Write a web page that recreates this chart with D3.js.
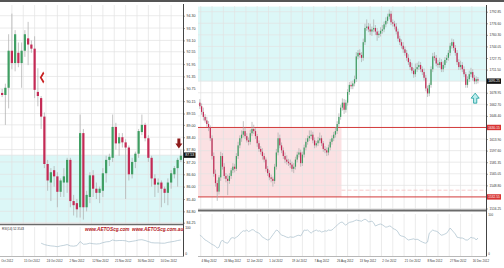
<!DOCTYPE html>
<html><head><meta charset="utf-8">
<script src="https://cdn.jsdelivr.net/npm/d3@7"></script>
<style>html,body{margin:0;padding:0;background:#fff;overflow:hidden}text{font-family:"Liberation Sans",Arial,sans-serif}</style>
</head><body>
<svg id="c" width="504" height="268"></svg>
<script>
// ---------------- DATA: left chart (crude oil, daily, Oct-Dec 2012) ----------------
const oilOpen = [90.55,90.45,90.8,92.6,92.0,92.5,92.0,92.6,93.2,92.9,
 92.7,90.6,90.3,89.4,87.1,86.2,86.8,86.5,85.75,86.2,
 86.2,87.3,85.3,85.2,85.0,88.6,85.0,85.5,86.55,85.9,
 85.7,85.8,86.65,87.3,87.4,88.9,88.1,88.4,88.15,87.9,
 86.6,87.2,87.6,88.65,89.0,88.35,87.4,86.4,86.1,86.2,
 85.9,85.7,86.2,86.6,86.9,87.3];
const oilHigh = [90.75,91.0,93.4,94.4,93.6,93.0,93.0,93.6,94.0,93.1,
 93.3,91.75,90.4,89.6,87.3,86.9,87.0,86.7,86.4,86.9,
 87.4,87.4,85.6,85.4,89.5,88.8,85.8,86.7,86.8,86.2,
 86.0,86.9,87.5,87.6,89.5,89.1,88.6,88.6,88.3,88.0,
 87.4,87.7,88.8,89.5,89.1,88.5,87.5,86.6,86.4,86.3,
 86.0,86.4,86.8,87.0,87.4,87.8];
const oilLow = [90.35,89.0,89.8,91.7,91.6,91.8,90.8,92.3,91.9,92.5,
 90.3,89.9,88.8,86.9,85.8,85.3,86.0,85.0,85.5,85.5,
 85.7,85.0,84.6,84.5,84.5,84.4,84.8,85.2,85.5,85.4,
 85.2,85.5,86.2,87.0,87.2,87.8,87.5,87.9,85.4,86.3,
 86.4,86.9,87.4,88.5,88.2,87.2,86.0,85.5,85.7,85.0,
 85.2,85.1,85.9,86.4,86.0,87.2];
const oilClose = [90.45,90.8,92.6,92.0,93.4,92.0,92.6,93.4,92.9,92.7,
 90.7,90.4,89.4,87.1,86.3,86.7,86.5,85.75,86.3,86.5,
 87.3,85.3,85.1,84.9,88.6,85.0,85.6,86.55,85.9,85.7,
 85.9,86.65,87.3,87.45,88.9,88.1,88.4,88.15,87.9,86.6,
 87.2,87.6,88.7,89.0,88.35,87.4,86.4,86.1,86.2,85.9,
 85.7,86.2,86.65,86.9,87.3,87.5];
const oilRSIStart = 12;
const oilRSI = [40,35,32,30,29,27,30,32,35,30,29,31,46,36,37,40,38,37,38,42,
 45,46,52,49,50,50,49,45,47,49,52,53,50,46,42,41,41,40,40,43,45,47,50,52];
const oilYTicks = [94.30,93.70,93.10,92.55,91.95,91.35,90.75,90.15,89.55,89.00,88.40,87.80,87.20,86.60,86.00,85.40,84.80,84.25];
const oilXLabels = ["Oct 2012","15 Oct 2012","24 Oct 2012","2 Nov 2012","12 Nov 2012","21 Nov 2012","30 Nov 2012","10 Dec 2012"];
const oilXLabelBars = [0,7,14,21,28,35,42,49];
const oilLast = 87.53;
const oilRSILabel = "RSI(14) 52.3543";

// ---------------- DATA: right chart (gold, daily, May-Dec 2012) ----------------
const goldOpen = [1665,1660,1652,1645,1640,1635,1630,1615,1590,1565,
 1552,1540,1560,1590,1575,1562,1558,1555,1562,1570,
 1575,1572,1590,1605,1615,1620,1625,1618,1612,1610,
 1622,1628,1625,1618,1608,1600,1596,1590,1585,1572,
 1566,1560,1558,1555,1575,1595,1615,1605,1598,1590,
 1585,1582,1580,1578,1572,1575,1585,1592,1595,1580,
 1592,1602,1610,1615,1618,1620,1612,1605,1608,1612,
 1615,1608,1600,1598,1595,1602,1610,1615,1620,1625,
 1635,1645,1658,1665,1655,1665,1680,1690,1688,1692,
 1698,1730,1735,1732,1728,1750,1770,1772,1768,1765,
 1768,1770,1765,1760,1762,1766,1768,1775,1780,1786,
 1790,1778,1776,1772,1765,1755,1750,1745,1740,1735,
 1728,1722,1715,1710,1705,1712,1715,1718,1712,1708,
 1700,1685,1678,1690,1712,1730,1728,1720,1718,1722,
 1712,1718,1725,1728,1735,1745,1750,1742,1735,1722,
 1715,1718,1712,1705,1690,1698,1705,1708,1700,1695,
 1698];
const goldHigh = [1670,1664,1658,1649,1645,1639,1633,1619,1595,1571,
 1556,1563,1596,1594,1580,1566,1564,1566,1573,1580,
 1579,1594,1610,1619,1626,1639,1630,1622,1616,1627,
 1638,1634,1629,1621,1612,1604,1601,1594,1588,1576,
 1570,1564,1561,1579,1600,1623,1620,1609,1602,1595,
 1591,1586,1585,1582,1580,1589,1596,1601,1599,1596,
 1606,1615,1619,1626,1626,1624,1616,1611,1617,1623,
 1619,1611,1604,1602,1606,1614,1619,1624,1630,1639,
 1650,1662,1671,1670,1669,1684,1694,1695,1696,1703,
 1736,1739,1740,1736,1755,1776,1782,1777,1776,1772,
 1782,1774,1770,1766,1771,1774,1779,1785,1790,1796,
 1794,1782,1780,1777,1769,1759,1754,1750,1744,1739,
 1733,1726,1721,1714,1720,1721,1723,1722,1716,1713,
 1704,1689,1693,1716,1735,1736,1732,1725,1728,1726,
 1723,1729,1732,1739,1749,1755,1754,1746,1739,1726,
 1724,1722,1716,1708,1702,1710,1714,1712,1704,1702,
 1701];
const goldLow = [1656,1648,1640,1637,1631,1625,1611,1585,1561,1547,
 1527,1536,1555,1571,1558,1553,1535,1551,1558,1566,
 1567,1569,1586,1601,1610,1616,1614,1609,1605,1606,
 1618,1621,1614,1603,1596,1592,1585,1581,1568,1562,
 1556,1553,1547,1551,1571,1591,1601,1594,1586,1580,
 1578,1576,1573,1568,1566,1571,1581,1588,1575,1576,
 1588,1598,1606,1611,1614,1608,1601,1602,1604,1608,
 1604,1596,1594,1590,1591,1598,1606,1611,1616,1621,
 1631,1641,1654,1649,1651,1661,1676,1684,1684,1688,
 1694,1726,1728,1722,1724,1746,1766,1764,1760,1759,
 1764,1760,1752,1756,1758,1762,1764,1771,1776,1782,
 1774,1772,1768,1761,1751,1746,1741,1735,1731,1724,
 1718,1711,1706,1700,1701,1708,1711,1708,1704,1696,
 1681,1673,1674,1686,1708,1724,1716,1714,1714,1708,
 1708,1714,1721,1724,1731,1741,1738,1731,1718,1711,
 1711,1708,1701,1686,1686,1694,1701,1696,1691,1691,
 1692];
const goldClose = [1660,1652,1645,1640,1635,1630,1615,1590,1565,1552,
 1540,1560,1590,1575,1562,1558,1555,1562,1570,1575,
 1572,1590,1605,1615,1620,1625,1618,1612,1610,1622,
 1628,1625,1618,1608,1600,1596,1590,1585,1572,1566,
 1560,1558,1555,1575,1595,1615,1605,1598,1590,1585,
 1582,1580,1578,1572,1575,1585,1592,1595,1580,1592,
 1602,1610,1615,1618,1620,1612,1605,1608,1612,1615,
 1608,1600,1598,1595,1602,1610,1615,1620,1625,1635,
 1645,1658,1665,1655,1665,1680,1690,1688,1692,1698,
 1730,1735,1732,1728,1750,1770,1772,1768,1765,1768,
 1770,1765,1760,1762,1766,1768,1775,1780,1786,1790,
 1778,1776,1772,1765,1755,1750,1745,1740,1735,1728,
 1722,1715,1710,1705,1712,1715,1718,1712,1708,1700,
 1685,1678,1690,1712,1730,1728,1720,1718,1722,1712,
 1718,1725,1728,1735,1745,1750,1742,1735,1722,1715,
 1718,1712,1705,1690,1698,1705,1708,1700,1695,1698,
 1696];
const goldRSIStart = 0;
const goldRSI = [47,44,40,35,33,30,27,24,22,19,15,17,30,35,30,28,27,33,40,41,
 39,42,45,50,55,58,57,60,56,58,61,60,56,54,52,48,42,40,37,35,
 36,42,48,54,60,58,52,47,46,44,42,41,43,42,42,44,46,47,45,52,
 60,59,60,56,52,56,58,60,57,58,55,56,58,57,60,59,60,64,68,72,
 76,79,80,75,72,76,79,80,81,83,85,84,83,82,85,87,85,80,81,82,
 78,70,72,74,75,73,70,67,68,70,69,64,62,60,55,47,45,44,42,38,
 35,36,37,38,36,37,35,32,30,28,27,30,52,56,60,58,57,55,50,47,
 48,50,52,58,65,60,55,50,42,41,40,40,38,35,35,38,42,40,40,35,40];
const goldYTicks = [1792.85,1776.60,1760.30,1744.05,1727.75,1711.50,1678.95,1662.70,1646.40,1613.90,1597.60,1581.35,1565.05,1548.80,1516.25];
const goldXLabels = ["4 May 2012","24 May 2012","12 Jun 2012","1 Jul 2012","19 Jul 2012","7 Aug 2012","26 Aug 2012","13 Sep 2012","2 Oct 2012","21 Oct 2012","8 Nov 2012","27 Nov 2012","16 Dec 2012"];
const goldXLabelBars = [1,14,27,40,53,66,79,92,105,118,131,144,157];
const goldLast = 1695.25;
const goldLevels = [1630.15, 1532.55];
const goldZoneEndBar = 82;
const goldFaintLevel = 1542;

// ---------------- DRAWING ----------------
const svg = d3.select("#c");
const GREEN = "#3f9e63", RED = "#c42a55", WICK = "#aaaaaa", GRID = "#e3e3e3", CYAN = "#dcf7f7", PINK = "#fbe1e3";
const XFS = 2.9;

svg.append("rect").attr("x",0).attr("y",0).attr("width",504).attr("height",2).attr("fill","#555");

function panel(o){
  const g = svg.append("g");
  const n = o.open.length;
  const x = d3.scaleLinear().domain([0,n]).range([o.x0,o.x1]);
  const y = d3.scaleLinear().domain(o.yDomain).range(o.yRange);
  const r = d3.scaleLinear().domain([0,100]).range(o.rRange);
  const L = o.plotL, R = o.plotR, T = o.plotT, B = o.plotB;
  const FS = o.fs;

  const cy0 = Math.max(T, y(o.cyan[1])), cy1 = Math.min(B, y(o.cyan[0]));
  g.append("rect").attr("x",L).attr("y",cy0).attr("width",R-L).attr("height",cy1-cy0).attr("fill",CYAN);
  if (o.pink) {
    g.append("rect").attr("x",L).attr("y",y(o.pink.hi)).attr("width",x(o.pink.endBar)-L)
      .attr("height",y(o.pink.lo)-y(o.pink.hi)).attr("fill",PINK);
  }
  const vgrid = d3.range(o.gridStart, n, o.gridStep);
  g.selectAll(".vg").data(vgrid).join("line").attr("x1",d=>x(d)).attr("x2",d=>x(d))
    .attr("y1",T).attr("y2",B).attr("stroke",GRID).attr("stroke-width",0.7);
  g.selectAll(".vg2").data(vgrid).join("line").attr("x1",d=>x(d)).attr("x2",d=>x(d))
    .attr("y1",o.rRange[1]).attr("y2",o.rRange[0]+2).attr("stroke",GRID).attr("stroke-width",0.7);
  g.selectAll(".hg").data(o.yTicks.concat([o.last])).join("line").attr("x1",L).attr("x2",R)
    .attr("y1",d=>y(d)).attr("y2",d=>y(d)).attr("stroke",GRID).attr("stroke-width",0.7);

  if (o.faint) {
    g.append("line").attr("x1",x(o.pink.endBar)).attr("x2",R).attr("y1",y(o.faint)).attr("y2",y(o.faint))
      .attr("stroke","#f2b8b8").attr("stroke-width",0.7).attr("stroke-dasharray","4,2");
  }
  if (o.levels) {
    g.selectAll(".lv").data(o.levels).join("line").attr("x1",L).attr("x2",R)
      .attr("y1",d=>y(d)).attr("y2",d=>y(d)).attr("stroke","#d23a3a").attr("stroke-width",1);
  }

  const idx = d3.range(n);
  const bw = (x(1)-x(0))*o.bodyFrac;
  g.selectAll(".wk").data(idx).join("line")
    .attr("x1",i=>x(i+0.5)).attr("x2",i=>x(i+0.5))
    .attr("y1",i=>y(o.high[i])).attr("y2",i=>y(o.low[i]))
    .attr("stroke",WICK).attr("stroke-width",0.7);
  g.selectAll(".bd").data(idx).join("rect")
    .attr("x",i=>x(i+0.5)-bw/2).attr("width",bw)
    .attr("y",i=>y(Math.max(o.open[i],o.close[i])))
    .attr("height",i=>Math.max(0.8, Math.abs(y(o.open[i])-y(o.close[i]))))
    .attr("fill",i=>o.close[i]>=o.open[i]?GREEN:RED);

  g.append("line").attr("x1",L).attr("x2",R).attr("y1",o.sepY).attr("y2",o.sepY)
    .attr("stroke","#6a6a6a").attr("stroke-width",o.sepW);

  const line = d3.line().x((d,i)=>x(o.rsiStart+i+0.5)).y(d=>r(d));
  g.append("path").datum(o.rsi).attr("d",line).attr("fill","none").attr("stroke","#a8bfcc").attr("stroke-width",0.7);

  g.append("line").attr("x1",R+0.5).attr("x2",R+0.5).attr("y1",T-1).attr("y2",o.axisB).attr("stroke","#444").attr("stroke-width",1);
  g.append("line").attr("x1",L).attr("x2",R).attr("y1",o.axisB).attr("y2",o.axisB).attr("stroke","#999").attr("stroke-width",0.7);

  const ax = g.append("g").attr("transform",`translate(${R+0.5},0)`)
    .call(d3.axisRight(y).tickValues(o.yTicks).tickFormat(d=>d.toFixed(2)).tickSize(1.5).tickPadding(1.5));
  ax.select(".domain").remove();
  ax.selectAll("text").attr("font-size",FS).attr("fill","#333").attr("font-family","Liberation Sans, Arial");
  ax.selectAll("line").attr("stroke","#444").attr("stroke-width",0.5);

  const boxes = [{v:o.last, fill:"#111"}].concat((o.levels||[]).map(v=>({v, fill:"#d83434"})));
  boxes.forEach(b=>{
    g.append("rect").attr("x",R+1).attr("y",y(b.v)-2.7).attr("width",o.boxW).attr("height",5.4).attr("fill",b.fill);
    g.append("text").attr("x",R+2.2).attr("y",y(b.v)).attr("dy","0.35em").attr("font-size",FS)
      .attr("fill","#fff").text(b.v.toFixed(2));
  });
  g.append("text").attr("x",R+2.2).attr("y",r(100)+1).attr("dy","0.35em").attr("font-size",FS-0.3).attr("fill","#333").text("100");
  g.append("text").attr("x",R+2.2).attr("y",r(0)).attr("dy","0.35em").attr("font-size",FS-0.3).attr("fill","#333").text("0");

  g.selectAll(".xl").data(o.xLabels).join("text")
    .attr("x",(d,i)=>x(o.xLabelBars[i])+0.8).attr("y",261.5).attr("font-size",XFS).attr("fill","#333").text(d=>d);

  return {x,y,r,g};
}

const left = panel({
  open:oilOpen, high:oilHigh, low:oilLow, close:oilClose,
  x0:0.5, x1:182.5, plotL:0, plotR:183, plotT:5, plotB:223.5,
  yDomain:[84.25,94.30], yRange:[222.7,15.7], rRange:[254,227],
  cyan:[84.25, oilLast], yTicks:oilYTicks, last:oilLast, fs:3.6,
  gridStart:3.5, gridStep:3.5, bodyFrac:0.68,
  sepY:224.5, sepW:1.3, axisB:256.5, boxW:11.5,
  rsi:oilRSI, rsiStart:oilRSIStart,
  xLabels:oilXLabels, xLabelBars:oilXLabelBars
});

const right = panel({
  open:goldOpen, high:goldHigh, low:goldLow, close:goldClose,
  x0:199, x1:478.8, plotL:198, plotR:486, plotT:6, plotB:210,
  yDomain:[1516.26,1792.85], yRange:[208.5,11.7], rRange:[254,214],
  cyan:[goldLast, 1800], yTicks:goldYTicks, last:goldLast, fs:3.2,
  gridStart:1, gridStep:6.5, bodyFrac:0.7,
  pink:{lo:goldLevels[1], hi:goldLevels[0], endBar:goldZoneEndBar},
  levels:goldLevels, faint:goldFaintLevel,
  sepY:210.5, sepW:2, axisB:256.5, boxW:14,
  rsi:goldRSI, rsiStart:goldRSIStart,
  xLabels:goldXLabels, xLabelBars:goldXLabelBars
});

svg.append("text").attr("x",2).attr("y",229.8).attr("font-size",3).attr("fill","#333").text(oilRSILabel);
svg.append("text").attr("x",85).attr("y",231).attr("font-size",4.7).attr("font-weight","bold").attr("font-style","italic")
  .attr("fill","#b3171b").text("www.AETOScg.com");
svg.append("text").attr("x",132).attr("y",231).attr("font-size",4.7).attr("font-weight","bold").attr("font-style","italic")
  .attr("fill","#b3171b").text("www.AETOScg.com.au");

{
  const cx = left.x(55.5) - 2, tip = left.y(oilHigh[55]) - 1;
  const p = d3.path();
  p.moveTo(cx-1.5, tip-10); p.lineTo(cx+1.5, tip-10); p.lineTo(cx+1.5, tip-5); p.lineTo(cx+3.5, tip-5);
  p.lineTo(cx, tip); p.lineTo(cx-3.5, tip-5); p.lineTo(cx-1.5, tip-5); p.closePath();
  svg.append("path").attr("d",p.toString()).attr("fill","#8e1b1b");
}
{
  const cx = left.x(13) - 1, cy = left.y(91.3);
  const p = d3.path();
  p.moveTo(cx+1.5, cy-6); p.lineTo(cx-2, cy); p.lineTo(cx+1.5, cy+6); p.lineTo(cx+2.5, cy+4); p.lineTo(cx, cy); p.lineTo(cx+2.5, cy-4); p.closePath();
  svg.append("path").attr("d",p.toString()).attr("fill","#c82020");
}
{
  const cx = right.x(159.5) - 1, tip = right.y(goldLow[159]) + 9;
  const p = d3.path();
  p.moveTo(cx, tip); p.lineTo(cx+4, tip+5); p.lineTo(cx+1.6, tip+5); p.lineTo(cx+1.6, tip+10);
  p.lineTo(cx-1.6, tip+10); p.lineTo(cx-1.6, tip+5); p.lineTo(cx-4, tip+5); p.closePath();
  svg.append("path").attr("d",p.toString()).attr("fill","#bdeeee").attr("stroke","#169a9a").attr("stroke-width",0.8);
}
</script>
</body></html>
